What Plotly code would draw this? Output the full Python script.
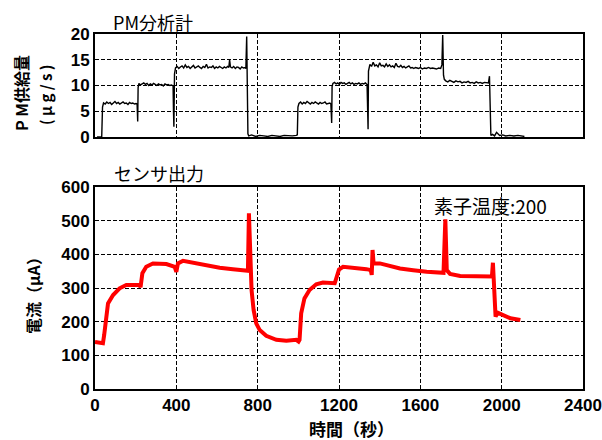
import plotly.graph_objects as go

# --- PM analyser (top panel): (time s, µg/s) ---
pm_points = [
    (10, 0.0), (33, 0.0), (37, 5.8), (42, 6.6), (50, 6.4), (58, 6.8), (66, 6.5), (74, 6.7), (82, 6.3),
    (90, 6.6), (98, 6.9), (106, 6.5), (114, 6.7), (122, 6.4), (130, 6.6), (138, 6.8), (146, 6.5),
    (154, 6.6), (162, 6.3), (170, 6.7), (178, 6.5), (186, 6.6), (194, 6.4), (202, 6.5), (207, 6.4),
    (210, 3.0), (212, 9.6), (216, 10.4), (224, 10.1), (232, 10.3), (240, 10.5), (248, 10.2), (256, 10.4),
    (264, 10.0), (272, 10.3), (280, 10.1), (288, 10.4), (296, 10.2), (304, 10.0), (312, 10.3), (320, 10.1),
    (328, 10.2), (336, 9.9), (344, 10.3), (352, 10.1), (360, 10.2), (368, 10.0), (376, 10.1), (384, 9.9),
    (386, 5.0), (388, 2.0), (391, 12.2), (396, 13.4), (404, 13.7), (412, 13.3), (420, 13.6), (428, 13.8),
    (436, 13.4), (444, 14.0), (452, 13.5), (460, 13.7), (468, 13.3), (476, 13.6), (484, 13.9), (492, 13.4),
    (500, 13.6), (508, 13.8), (516, 13.5), (524, 13.3), (532, 13.7), (540, 13.5), (548, 14.1), (556, 13.4),
    (564, 13.6), (572, 13.5), (580, 13.8), (588, 13.3), (596, 13.6), (604, 13.4), (612, 13.7), (620, 13.5),
    (628, 13.3), (636, 13.6), (644, 13.4), (652, 13.7), (658, 13.5), (662, 15.0), (666, 13.6), (674, 13.4),
    (682, 13.7), (690, 13.3), (698, 13.6), (706, 13.5), (714, 13.2), (722, 13.6), (730, 13.4), (738, 13.5),
    (742, 13.3), (746, 19.5), (749, 9.0), (752, 0.6), (756, 0.2), (770, 0.4), (790, 0.1), (810, 0.3),
    (830, 0.2), (850, 0.1), (870, 0.3), (890, 0.2), (910, 0.1), (930, 0.3), (950, 0.2), (970, 0.2),
    (990, 0.3), (995, 0.4), (998, 5.8), (1003, 6.5), (1011, 6.8), (1019, 6.4), (1027, 6.7), (1035, 6.5),
    (1043, 6.9), (1051, 6.6), (1059, 6.4), (1067, 6.7), (1075, 6.5), (1083, 6.8), (1091, 6.6), (1099, 6.4),
    (1107, 6.7), (1115, 6.5), (1123, 6.6), (1131, 6.8), (1139, 6.4), (1147, 6.5), (1155, 6.6), (1160, 6.4),
    (1162, 4.0), (1164, 2.7), (1166, 9.8), (1170, 10.4), (1178, 10.6), (1186, 10.3), (1194, 10.5),
    (1202, 10.2), (1210, 10.6), (1218, 10.4), (1226, 10.5), (1234, 10.2), (1242, 10.4), (1250, 10.6),
    (1258, 10.3), (1266, 10.5), (1274, 10.2), (1282, 10.4), (1290, 10.3), (1298, 10.5), (1306, 10.2),
    (1314, 10.4), (1322, 10.3), (1330, 10.5), (1338, 10.2), (1341, 5.0), (1343, 1.5), (1345, 12.8),
    (1348, 13.8), (1352, 14.1), (1360, 13.7), (1368, 14.5), (1376, 13.8), (1384, 14.0), (1392, 13.6),
    (1400, 14.4), (1408, 13.8), (1416, 13.9), (1424, 13.6), (1432, 14.2), (1440, 13.7), (1448, 14.0),
    (1456, 13.6), (1464, 13.8), (1472, 13.5), (1480, 14.3), (1488, 13.7), (1496, 13.6), (1504, 13.9),
    (1512, 13.5), (1520, 13.7), (1528, 13.4), (1536, 13.6), (1544, 13.8), (1552, 13.4), (1560, 13.5),
    (1568, 13.3), (1576, 13.5), (1584, 13.4), (1592, 13.3), (1600, 13.5), (1610, 13.2), (1620, 13.4),
    (1630, 13.3), (1640, 13.5), (1650, 13.3), (1660, 13.4), (1670, 13.3), (1680, 13.2), (1690, 13.4),
    (1700, 13.3), (1706, 14.0), (1710, 19.8), (1714, 12.0), (1718, 11.2), (1725, 10.9), (1735, 10.7),
    (1745, 11.0), (1755, 10.8), (1765, 10.6), (1775, 10.9), (1785, 10.7), (1795, 10.8), (1805, 10.5),
    (1815, 10.7), (1825, 10.6), (1835, 10.8), (1845, 10.5), (1855, 10.6), (1865, 10.4), (1875, 10.7),
    (1885, 10.5), (1895, 10.6), (1905, 10.4), (1915, 10.6), (1925, 10.5), (1935, 10.5), (1940, 11.8),
    (1944, 5.0), (1947, 0.3), (1955, 0.5), (1965, 0.2), (1975, 0.9), (1990, 0.3), (2005, 0.4),
    (2020, 0.2), (2040, 0.3), (2060, 0.2), (2080, 0.3), (2100, 0.1), (2112, 0.1),
]

# --- Sensor output (bottom panel): (time s, µA) ---
cur_points = [
    (0, 140), (39, 136), (45, 160), (52, 205), (64, 254), (89, 279), (121, 299), (154, 309), (220, 309),
    (224, 302), (233, 344), (252, 363), (285, 373), (351, 371), (392, 363), (400, 348), (408, 373),
    (433, 381), (482, 375), (547, 368), (613, 360), (678, 356), (752, 351), (757, 522), (764, 353),
    (770, 294), (780, 235), (793, 195), (810, 175), (842, 158), (892, 146), (941, 143), (990, 146),
    (1001, 141), (1006, 146), (1014, 225), (1030, 269), (1055, 294), (1088, 311), (1121, 316),
    (1179, 314), (1187, 334), (1200, 355), (1220, 363), (1269, 361), (1335, 356), (1356, 353),
    (1361, 339), (1365, 413), (1370, 373), (1401, 373), (1450, 366), (1500, 358), (1565, 353),
    (1631, 348), (1714, 345), (1723, 504), (1730, 353), (1746, 342), (1796, 336), (1878, 334),
    (1952, 334), (1957, 375), (1964, 274), (1970, 215), (1980, 227), (2010, 220), (2043, 210), (2092, 205),
]

x_ticks = [0, 400, 800, 1200, 1600, 2000, 2400]
pm_ticks = [0, 5, 10, 15, 20]
cur_ticks = [0, 100, 200, 300, 400, 500, 600]

pm_t = [p[0] for p in pm_points]
pm_v = [p[1] for p in pm_points]
cur_t = [p[0] for p in cur_points]
cur_v = [p[1] for p in cur_points]

def bold(vals):
    return ["<b>%d</b>" % v for v in vals]

fig = go.Figure()
fig.add_trace(go.Scatter(x=pm_t, y=pm_v, mode="lines", line=dict(color="black", width=1.4),
                         xaxis="x", yaxis="y", showlegend=False))
fig.add_trace(go.Scatter(x=cur_t, y=cur_v, mode="lines", line=dict(color="#ff0000", width=4),
                         xaxis="x2", yaxis="y2", showlegend=False))

tick_font = dict(family="Liberation Sans", size=17, color="black")
common_x = dict(range=[0, 2400], tickvals=x_ticks, showgrid=True, gridcolor="black", gridwidth=1,
                griddash="4px,2px", showline=True, mirror=True, linecolor="black", linewidth=2,
                zeroline=False, ticks="", automargin=False)
common_y = dict(showgrid=True, gridcolor="black", gridwidth=1, griddash="4px,2px", showline=True,
                mirror=True, linecolor="black", linewidth=2, zeroline=False, ticks="",
                automargin=False, tickfont=tick_font)

fig.update_layout(
    template="none",
    width=602, height=440,
    margin=dict(l=95, r=19, t=34, b=51, autoexpand=False),
    paper_bgcolor="white", plot_bgcolor="white",
    xaxis=dict(**common_x, domain=[0, 1], anchor="y", showticklabels=False),
    yaxis=dict(**common_y, domain=[0.71, 1], range=[0, 20], tickvals=pm_ticks, ticktext=bold(pm_ticks)),
    xaxis2=dict(**common_x, domain=[0, 1], anchor="y2", tickfont=tick_font, ticktext=bold(x_ticks)),
    yaxis2=dict(**common_y, domain=[0, 0.569], range=[0, 600], tickvals=cur_ticks, ticktext=bold(cur_ticks)),
)

def px_to_paper(px, py):
    return (px - 95) / (583 - 95), (389 - py) / (389 - 34)

items = [
    ("PM分析計", 153, 22, 18, "normal", 0),
    ("センサ出力", 159, 173, 18, "normal", 0),
    ("素子温度:200", 490, 205, 19, "normal", 0),
    ("P M供給量", 21, 93, 16, "bold", -90),
    ("( μ g / s )", 45, 95, 15, "bold", -90),
    ("電流（μA）", 33, 292, 16, "bold", -90),
    ("時間（秒）", 351, 428, 17, "bold", 0),
]
for text, px, py, size, w, ang in items:
    xp, yp = px_to_paper(px, py)
    fig.add_annotation(text=text, x=xp, y=yp, xref="paper", yref="paper", showarrow=False,
                       xanchor="center", yanchor="middle", textangle=ang,
                       font=dict(family="Noto Sans CJK JP, Liberation Sans", size=size,
                                 color="black", weight=w))

fig.write_html("out.html", config={"displayModeBar": False},
               post_script="document.body.style.margin='0';document.body.style.overflow='hidden';")
